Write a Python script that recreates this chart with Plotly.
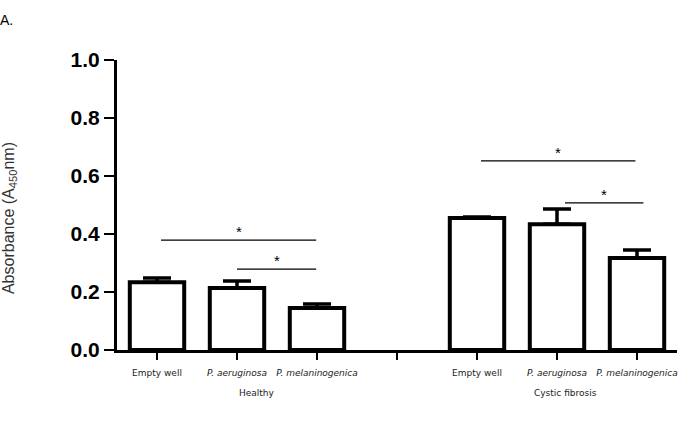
import plotly.graph_objects as go

# ---- data ----
tick_labels = ["Empty well", "<i>P. aeruginosa</i>", "<i>P. melaninogenica</i>", " ",
               "Empty well", "<i>P. aeruginosa</i>", "<i>P. melaninogenica</i>"]
bar_positions = [0, 1, 2, 4, 5, 6]
means = [0.234, 0.214, 0.145, 0.455, 0.434, 0.317]
sem = [0.014, 0.024, 0.014, 0.004, 0.052, 0.028]
group_names = ["Healthy", "Cystic fibrosis"]
group_centers = [1.25, 5.1]
# significance brackets: (start index, end index, height)
sig_start = [0.05, 1.0, 4.05, 5.1]
sig_end = [1.99, 1.99, 5.98, 6.08]
sig_height = [0.379, 0.279, 0.652, 0.507]

fig = go.Figure()
fig.add_trace(go.Bar(
    x=bar_positions, y=means, width=0.68,
    marker=dict(color="white", line=dict(color="black", width=4)),
    error_y=dict(type="data", array=sem, arrayminus=[0]*len(sem), symmetric=False,
                 color="black", thickness=3.5, width=14),
    showlegend=False,
))

for s, e, h in zip(sig_start, sig_end, sig_height):
    fig.add_trace(go.Scatter(x=[s, e], y=[h, h], mode="lines",
                             line=dict(color="black", width=1.3),
                             showlegend=False, hoverinfo="skip"))
    fig.add_annotation(x=(s + e) / 2, y=h, text="*", showarrow=False,
                       yanchor="bottom", yshift=-2,
                       font=dict(family="Liberation Sans", size=15, color="black"))

for name, c in zip(group_names, group_centers):
    fig.add_annotation(x=c, y=0, yref="y", text=name, showarrow=False,
                       yanchor="top", yshift=-36,
                       font=dict(family="DejaVu Sans", size=9, color="#222"))

fig.add_annotation(x=0, y=1, xref="paper", yref="paper", text="A.",
                   xshift=-119, yshift=50, xanchor="left", yanchor="top", showarrow=False,
                   font=dict(family="Liberation Sans", size=14, color="black"))

# y-axis title placed like the reference (left edge, slightly below centre)
fig.add_annotation(x=0, y=0.455, xref="paper", yref="paper",
                   text="Absorbance (A<sub>450</sub>nm)", textangle=-90,
                   xshift=-108, xanchor="center", yanchor="middle", showarrow=False,
                   font=dict(family="Liberation Sans", size=16, color="#333"))

fig.update_layout(
    width=690, height=426,
    margin=dict(l=117, r=13, t=60, b=76),
    plot_bgcolor="white", paper_bgcolor="white",
    bargap=0.3,
    xaxis=dict(range=[-0.5, 6.5], tickmode="array", tickvals=list(range(7)),
               ticktext=tick_labels, showgrid=False, zeroline=False,
               showline=True, linecolor="black", linewidth=3,
               ticks="outside", ticklen=7, tickwidth=2, tickcolor="black",
               tickangle=0, ticklabelstandoff=5,
               tickfont=dict(family="DejaVu Sans", size=9, color="#222")),
    yaxis=dict(range=[0, 1.0], tickmode="array", tickvals=[0, 0.2, 0.4, 0.6, 0.8, 1.0],
               ticktext=["0.0", "0.2", "0.4", "0.6", "0.8", "1.0"],
               showgrid=False, zeroline=False,
               showline=True, linecolor="black", linewidth=3,
               ticks="outside", ticklen=10, tickwidth=2, tickcolor="black",
               tickfont=dict(family="Liberation Sans", size=21, color="black", weight="bold")),
)

fig.write_html("out.html")
